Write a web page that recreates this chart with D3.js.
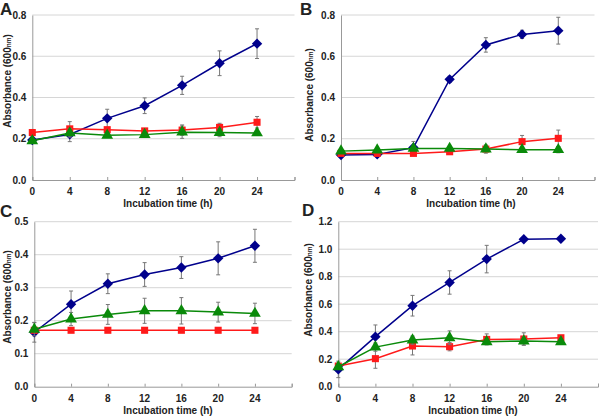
<!DOCTYPE html>
<html>
<head>
<meta charset="utf-8">
<script src="https://cdn.jsdelivr.net/npm/d3@7"></script>
<style>
  body { margin: 0; background: #fff; }
  text { font-family: "Liberation Sans", Arial, sans-serif; font-weight: bold; fill: #222; }
</style>
</head>
<body>
<svg id="chart"></svg>
<script>
// sampling times (h)
var hours = [0, 4, 8, 12, 16, 20, 24];
var xTicks = [0, 4, 8, 12, 16, 20, 24];

// panel A
var aBlue = [0.194, 0.221, 0.299, 0.360, 0.459, 0.566, 0.661];
var aBlueErr = [0.010, 0.035, 0.044, 0.038, 0.044, 0.060, 0.072];
var aRed = [0.230, 0.248, 0.244, 0.238, 0.242, 0.255, 0.280];
var aRedErr = [0.015, 0.035, 0.010, 0.008, 0.025, 0.020, 0.028];
var aGreen = [0.190, 0.228, 0.217, 0.220, 0.232, 0.230, 0.228];
var aGreenErr = [0.010, 0.020, 0.010, 0.012, 0.030, 0.020, 0.010];

// panel B
var bBlue = [0.121, 0.124, 0.157, 0.488, 0.655, 0.706, 0.724];
var bBlueErr = [0.010, 0.010, 0.030, 0.015, 0.035, 0.020, 0.065];
var bRed = [0.129, 0.129, 0.129, 0.137, 0.150, 0.186, 0.202];
var bRedErr = [0.005, 0.005, 0.005, 0.005, 0.020, 0.030, 0.040];
var bGreen = [0.140, 0.145, 0.153, 0.153, 0.150, 0.147, 0.147];
var bGreenErr = [0.005, 0.008, 0.005, 0.005, 0.010, 0.012, 0.015];

// panel C
var cBlue = [0.165, 0.250, 0.312, 0.340, 0.361, 0.389, 0.427];
var cBlueErr = [0.030, 0.040, 0.030, 0.036, 0.033, 0.050, 0.050];
var cRed = [0.171, 0.171, 0.171, 0.171, 0.171, 0.171, 0.171];
var cRedErr = [0, 0, 0, 0, 0, 0, 0];
var cGreen = [0.174, 0.205, 0.219, 0.230, 0.230, 0.226, 0.222];
var cGreenErr = [0.020, 0.020, 0.030, 0.038, 0.040, 0.030, 0.031];

// panel D
var dBlue = [0.126, 0.364, 0.589, 0.758, 0.928, 1.072, 1.076];
var dBlueErr = [0.060, 0.085, 0.075, 0.085, 0.100, 0.010, 0.010];
var dRed = [0.150, 0.204, 0.296, 0.291, 0.344, 0.347, 0.356];
var dRedErr = [0.020, 0.070, 0.065, 0.030, 0.040, 0.045, 0.010];
var dGreen = [0.145, 0.288, 0.339, 0.356, 0.327, 0.332, 0.327];
var dGreenErr = [0.020, 0.030, 0.030, 0.050, 0.010, 0.030, 0.010];

var yTicksAB = [0, 0.2, 0.4, 0.6, 0.8];
var yTicksC = [0, 0.1, 0.2, 0.3, 0.4, 0.5];
var yTicksD = [0, 0.2, 0.4, 0.6, 0.8, 1.0, 1.2];

var svg = d3.select("#chart").attr("width", 600).attr("height", 418);

var panels = [
  {id: "A", x0: 32.3, x1: 294.5, y0: 180, y1: 15, ymax: 0.8, ticks: yTicksAB,
   lx: 0, ly: 15, ylx: 7, yly: 81, xlx: 168, xly: 207,
   blue: aBlue, blueE: aBlueErr, red: aRed, redE: aRedErr, green: aGreen, greenE: aGreenErr},
  {id: "B", x0: 341, x1: 594.5, y0: 180, y1: 15, ymax: 0.8, ticks: yTicksAB,
   lx: 300, ly: 15, ylx: 309, yly: 95, xlx: 471, xly: 207,
   blue: bBlue, blueE: bBlueErr, red: bRed, redE: bRedErr, green: bGreen, greenE: bGreenErr},
  {id: "C", x0: 34.3, x1: 291.7, y0: 386.7, y1: 221.7, ymax: 0.5, ticks: yTicksC,
   lx: 0, ly: 217, ylx: 7, yly: 297, xlx: 168, xly: 414,
   blue: cBlue, blueE: cBlueErr, red: cRed, redE: cRedErr, green: cGreen, greenE: cGreenErr},
  {id: "D", x0: 338.3, x1: 598, y0: 386.7, y1: 221.7, ymax: 1.2, ticks: yTicksD,
   lx: 302, ly: 216, ylx: 308, yly: 290, xlx: 473, xly: 414,
   blue: dBlue, blueE: dBlueErr, red: dRed, redE: dRedErr, green: dGreen, greenE: dGreenErr}
];

var blueCol = "#00008c", redCol = "#ff1a1a", greenCol = "#0a8a0a";

panels.forEach(function(p) {
  var x = d3.scaleLinear().domain([0, 28]).range([p.x0, p.x1]);
  var y = d3.scaleLinear().domain([0, p.ymax]).range([p.y0, p.y1]);
  var g = svg.append("g");

  // grid
  g.selectAll(".grid").data(p.ticks.filter(function(t){ return t > 0; }))
    .enter().append("line")
    .attr("x1", p.x0).attr("x2", p.x1)
    .attr("y1", function(d){ return y(d); }).attr("y2", function(d){ return y(d); })
    .attr("stroke", "#d6d6d6").attr("stroke-width", 1);

  // axes
  var ax = d3.axisBottom(x).tickValues([0, 4, 8, 12, 16, 20, 24, 28]).tickSize(-3).tickFormat("");
  var axG = g.append("g").attr("transform", "translate(0," + p.y0 + ")").call(ax);
  axG.select(".domain").attr("stroke", "#999");
  axG.selectAll(".tick line").attr("stroke", "#999");

  var ay = d3.axisLeft(y).tickValues(p.ticks).tickSize(0).tickPadding(6)
    .tickFormat(d3.format(".1f"));
  var ayG = g.append("g").attr("transform", "translate(" + p.x0 + ",0)").call(ay);
  ayG.select(".domain").attr("stroke", "#999");
  ayG.selectAll("text").attr("font-size", "10px").attr("font-family", "Liberation Sans, Arial")
    .attr("font-weight", "bold").attr("fill", "#222");

  g.selectAll(".xt").data(xTicks).enter().append("text")
    .attr("x", function(d){ return x(d); }).attr("y", p.y0 + 15)
    .attr("text-anchor", "middle").attr("font-size", "10px")
    .text(function(d){ return d; });

  // labels
  g.append("text").attr("x", p.lx).attr("y", p.ly).attr("font-size", "17px").text(p.id);
  g.append("text").attr("x", p.xlx).attr("y", p.xly).attr("text-anchor", "middle")
    .attr("font-size", "10px").text("Incubation time (h)");
  var yl = g.append("text").attr("transform", "translate(" + p.ylx + "," + p.yly + ") rotate(-90)")
    .attr("dy", "0.35em").attr("text-anchor", "middle").attr("font-size", "10px");
  yl.append("tspan").text("Absorbance (600");
  yl.append("tspan").attr("font-size", "6.5px").text("nm");
  yl.append("tspan").text(")");

  var series = [
    {vals: p.blue, err: p.blueE, col: blueCol, shape: d3.symbolSquare, size: 54, rot: 45},
    {vals: p.red, err: p.redE, col: redCol, shape: d3.symbolSquare, size: 50, rot: 0},
    {vals: p.green, err: p.greenE, col: greenCol, shape: d3.symbolTriangle, size: 60, rot: 0}
  ];

  series.forEach(function(s) {
    var pts = hours.map(function(h, i){ return {h: h, v: s.vals[i], e: s.err[i]}; });
    var eb = g.append("g");
    pts.forEach(function(d) {
      if (!d.e) return;
      var cx = x(d.h), t = y(d.v + d.e), b = y(d.v - d.e);
      eb.append("line").attr("x1", cx).attr("x2", cx).attr("y1", t).attr("y2", b)
        .attr("stroke", "#777").attr("stroke-width", 1);
      eb.append("line").attr("x1", cx - 2).attr("x2", cx + 2).attr("y1", t).attr("y2", t)
        .attr("stroke", "#777").attr("stroke-width", 1);
      eb.append("line").attr("x1", cx - 2).attr("x2", cx + 2).attr("y1", b).attr("y2", b)
        .attr("stroke", "#777").attr("stroke-width", 1);
    });
    g.append("path").datum(pts)
      .attr("d", d3.line().x(function(d){ return x(d.h); }).y(function(d){ return y(d.v); }))
      .attr("fill", "none").attr("stroke", s.col).attr("stroke-width", 1.5);
    g.selectAll(null).data(pts).enter().append("path")
      .attr("transform", function(d){
        return "translate(" + x(d.h) + "," + y(d.v) + ") rotate(" + s.rot + ")";
      })
      .attr("d", d3.symbol().type(s.shape).size(s.size))
      .attr("fill", s.col);
  });
});
</script>
</body>
</html>
